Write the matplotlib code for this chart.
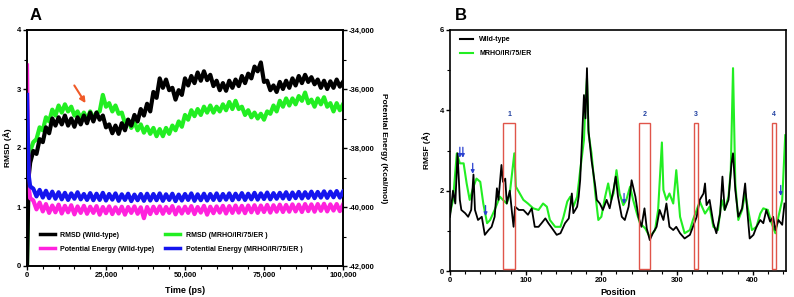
import matplotlib
matplotlib.use("Agg")
import matplotlib.pyplot as plt
from matplotlib.lines import Line2D
from matplotlib.patches import Rectangle

plt.rcParams['font.family'] = ['Liberation Sans', 'DejaVu Sans']
plt.rcParams['font.weight'] = 'bold'

# ---------------- Panel A data ----------------
rmsd_time = [0, 0.5] + list(range(1, 101))  # in thousand ps
rmsd_wt = [0.0, 1.5,
           1.75, 1.95, 1.9, 2.15, 2.1, 2.35, 2.25, 2.5, 2.38, 2.52,
           2.4, 2.55, 2.38, 2.5, 2.36, 2.52, 2.4, 2.55, 2.42, 2.6,
           2.45, 2.6, 2.48, 2.55, 2.35, 2.4, 2.25, 2.38, 2.24, 2.42,
           2.3, 2.48, 2.38, 2.56, 2.45, 2.66, 2.55, 2.75, 2.62, 2.95,
           2.85, 3.18, 3.02, 3.16, 2.98, 3.02, 2.82, 2.98, 2.9, 3.18,
           3.06, 3.22, 3.1, 3.28, 3.14, 3.3, 3.15, 3.24, 3.05, 3.14,
           2.98, 3.1, 2.97, 3.14, 3.02, 3.16, 3.05, 3.22, 3.1, 3.26,
           3.18, 3.38, 3.3, 3.45, 3.12, 3.14, 2.98, 3.06, 2.95, 3.12,
           3.0, 3.14, 3.02, 3.18, 3.06, 3.22, 3.1, 3.24, 3.12, 3.2,
           3.08, 3.16, 3.02, 3.14, 3.0, 3.13, 3.02, 3.16, 3.04, 3.12]
rmsd_mut = [0.0, 1.7,
            1.95, 2.1, 2.15, 2.35, 2.3, 2.52, 2.45, 2.65, 2.55, 2.72,
            2.6, 2.74, 2.62, 2.7, 2.55, 2.62, 2.5, 2.6, 2.48, 2.62,
            2.5, 2.6, 2.62, 2.9, 2.7, 2.76, 2.62, 2.72, 2.58, 2.6,
            2.42, 2.48, 2.34, 2.44, 2.3, 2.4, 2.26, 2.36, 2.24, 2.34,
            2.2, 2.32, 2.2, 2.34, 2.24, 2.38, 2.3, 2.45, 2.36, 2.56,
            2.48, 2.64, 2.54, 2.66, 2.56, 2.7, 2.6, 2.72, 2.6, 2.7,
            2.62, 2.74, 2.64, 2.78, 2.66, 2.8, 2.66, 2.7, 2.56, 2.64,
            2.52, 2.6, 2.5, 2.58, 2.48, 2.62, 2.58, 2.72, 2.62, 2.8,
            2.7, 2.84, 2.72, 2.84, 2.74, 2.88, 2.8, 2.94, 2.76, 2.82,
            2.7, 2.84, 2.74, 2.86, 2.7, 2.76, 2.62, 2.76, 2.64, 2.74]

energy_time = [0, 0.5] + list(range(1, 101))
energy_wt = [-35200, -39300,
             -39700, -39780, -40080, -39850, -40150, -39900, -40200, -39950, -40180, -39920,
             -40220, -39960, -40180, -39940, -40250, -39980, -40200, -39960, -40230, -39990,
             -40200, -39970, -40260, -40000, -40210, -39980, -40240, -40010, -40220, -39990,
             -40260, -40000, -40200, -39980, -40230, -40010, -40380, -40000, -40240, -39990,
             -40210, -39980, -40230, -40000, -40200, -39970, -40250, -40010, -40220, -39990,
             -40200, -39970, -40240, -40000, -40190, -39960, -40260, -39990, -40210, -39980,
             -40190, -39960, -40220, -39970, -40200, -39950, -40190, -39960, -40210, -39950,
             -40180, -39940, -40200, -39950, -40170, -39930, -40190, -39940, -40160, -39920,
             -40170, -39930, -40160, -39910, -40150, -39920, -40170, -39900, -40140, -39910,
             -40160, -39900, -40130, -39890, -40150, -39910, -40120, -39900, -40140, -39920]
energy_mut = [-36200, -38900,
              -39300, -39380, -39640, -39420, -39680, -39450, -39700, -39480, -39720, -39500,
              -39740, -39520, -39760, -39540, -39720, -39500, -39740, -39560, -39760, -39530,
              -39770, -39550, -39760, -39520, -39780, -39560, -39750, -39540, -39790, -39570,
              -39760, -39550, -39800, -39580, -39770, -39560, -39790, -39550, -39780, -39560,
              -39770, -39540, -39790, -39570, -39760, -39550, -39800, -39580, -39780, -39560,
              -39760, -39540, -39790, -39570, -39770, -39550, -39780, -39560, -39760, -39540,
              -39770, -39560, -39750, -39540, -39770, -39550, -39740, -39530, -39760, -39550,
              -39740, -39520, -39750, -39540, -39730, -39510, -39740, -39530, -39720, -39520,
              -39710, -39500, -39730, -39510, -39700, -39490, -39710, -39500, -39690, -39480,
              -39700, -39490, -39680, -39470, -39690, -39480, -39670, -39460, -39680, -39480]

# ---------------- Panel B data ----------------
pos_wt = [0, 4, 7, 10, 13, 15, 20, 24, 28, 31, 33, 37, 42, 46, 51, 55, 59, 62, 64, 68,
          70, 73, 75, 79, 82, 84, 86, 91, 97, 103, 108, 112, 117, 121, 126, 130, 135, 141,
          146, 152, 157, 161, 163, 168, 170, 172, 174, 177, 179, 181, 183, 187, 192, 194,
          198, 202, 207, 211, 216, 219, 222, 227, 231, 236, 240, 245, 249, 253, 257, 260,
          264, 268, 273, 277, 282, 286, 290, 295, 299, 304, 310, 317, 321, 326, 330, 335,
          337, 339, 343, 348, 352, 357, 360, 363, 368, 372, 374, 377, 381, 386, 390, 392,
          396, 401, 405, 410, 414, 418, 423, 427, 430, 434, 439, 442]
rmsf_wt = [1.35, 2.0, 1.68, 2.93, 1.77, 1.52, 1.44, 1.35, 1.52, 2.4, 1.52, 1.27, 1.35,
           0.9, 1.02, 1.1, 1.35, 2.06, 1.77, 2.64, 2.22, 2.3, 1.68, 2.0, 1.44, 1.1, 1.6,
           1.52, 1.52, 1.4, 1.56, 1.1, 1.1, 1.19, 1.31, 1.19, 1.06, 0.9, 0.94, 1.19, 1.31,
           1.93, 1.44, 1.6, 1.85, 2.26, 3.09, 4.38, 3.8, 5.05, 3.5, 2.76, 2.1, 1.77, 1.68,
           1.52, 1.77, 1.56, 2.02, 2.35, 1.85, 1.35, 1.27, 1.6, 2.26, 1.85, 1.35, 1.1, 1.56,
           1.06, 0.77, 0.94, 1.1, 1.52, 1.27, 1.68, 1.1, 1.02, 1.1, 0.94, 0.81, 0.9, 1.1,
           1.35, 1.77, 1.93, 2.18, 1.64, 1.77, 1.19, 0.94, 1.43, 2.35, 1.52, 1.77, 2.68,
           2.93, 2.02, 1.35, 1.56, 2.18, 1.68, 0.81, 0.9, 1.1, 1.27, 1.19, 1.52, 1.23, 1.35,
           1.02, 1.27, 1.15, 1.68]
pos_mut = [0, 4, 9, 13, 18, 22, 26, 31, 35, 40, 44, 49, 53, 59, 66, 70, 75, 79, 85, 87,
           91, 97, 103, 110, 117, 123, 128, 132, 139, 146, 150, 155, 159, 163, 168, 172,
           177, 179, 181, 183, 187, 192, 196, 200, 205, 209, 213, 216, 220, 224, 229, 233,
           238, 242, 247, 251, 258, 264, 271, 275, 280, 282, 286, 290, 295, 299, 304, 310,
           317, 321, 326, 330, 337, 343, 348, 354, 359, 363, 368, 371, 374, 377, 381, 386,
           390, 394, 399, 405, 410, 414, 420, 425, 430, 434, 439, 443]
rmsf_mut = [1.44, 1.77, 2.93, 2.68, 2.68, 2.18, 1.77, 2.1, 2.3, 2.22, 1.68, 1.19, 1.27,
            1.52, 1.85, 1.77, 1.68, 1.93, 2.93, 2.1, 1.97, 1.77, 1.68, 1.56, 1.52, 1.68,
            1.6, 1.27, 1.1, 1.1, 1.35, 1.73, 1.85, 1.6, 1.85, 2.5, 3.26, 4.2, 4.8, 3.43,
            2.93, 1.93, 1.27, 1.35, 1.85, 2.18, 1.77, 1.93, 2.51, 1.93, 1.64, 1.77, 2.1,
            1.77, 1.43, 1.19, 1.06, 0.85, 1.02, 1.52, 3.2, 2.02, 1.77, 1.93, 1.68, 2.51,
            1.35, 0.94, 1.02, 1.27, 1.52, 1.73, 1.43, 1.6, 1.1, 1.02, 1.77, 1.52, 1.85, 2.5,
            5.05, 2.18, 1.27, 1.52, 1.93, 1.52, 1.02, 1.1, 1.43, 1.56, 1.52, 1.19, 0.94,
            1.35, 1.77, 3.38]

box_labels = ['1', '2', '3', '4']
box_start = [70, 250, 322, 425]
box_end = [86, 264, 328, 431]
box_top = 3.68

arrow_pos = [13, 17, 30, 47, 230, 437]
arrow_val = [2.9, 2.9, 2.5, 1.45, 1.75, 1.95]

# ---------------- Figure ----------------
fig = plt.figure(figsize=(7.94, 2.97), dpi=100)
axA = fig.add_axes([27/794, 31/297, 316/794, 236/297])
axB = fig.add_axes([450/794, 26/297, 336/794, 241/297])

tfs = 5.5
for ax in (axA, axB):
    for s in ax.spines.values():
        s.set_linewidth(1.2)
    ax.tick_params(axis='both', which='major', labelsize=tfs, length=3, width=1, direction='out', pad=1.5)
    ax.tick_params(axis='both', which='minor', length=2, width=0.8, direction='out')

LW = 3.0
# Panel A
tA = [t * 1000 for t in rmsd_time]
tE = [t * 1000 for t in energy_time]
axA.plot(tA, rmsd_mut, color='#22ee22', lw=LW, zorder=2)
axA.plot(tA, rmsd_wt, color='black', lw=LW, zorder=3)
axA.set_xlim(0, 100000)
axA.set_ylim(0, 4)
axA.set_yticks([0, 1, 2, 3, 4])
axA.set_xticks([0, 25000, 50000, 75000, 100000])
axA.set_xticklabels(['0', '25,000', '50,000', '75,000', '100,000'])
axA.set_xticks(range(0, 100001, 5000), minor=True)
axA.set_yticks([0.5, 1.5, 2.5, 3.5], minor=True)
axA.set_ylabel('RMSD (Å)', fontsize=6, fontweight='bold', labelpad=3)
axA.set_xlabel('Time (ps)', fontsize=6.5, fontweight='bold', labelpad=5)

axE = axA.twinx()
axE.plot(tE, energy_wt, color='#ff22dd', lw=LW, zorder=2)
axE.plot(tE, energy_mut, color='#1515ee', lw=LW, zorder=3)
axE.set_ylim(-42000, -34000)
axE.set_yticks([-42000, -40000, -38000, -36000, -34000])
axE.set_yticklabels(['-42,000', '-40,000', '-38,000', '-36,000', '-34,000'])
axE.set_yticks(range(-42000, -33999, 1000), minor=True)
for s in axE.spines.values():
    s.set_linewidth(1.2)
axE.tick_params(axis='y', which='major', labelsize=tfs, length=3, width=1, pad=1)
axE.tick_params(axis='y', which='minor', length=2, width=0.8)
axE.set_ylabel('Potential Energy (Kcal/mol)', fontsize=6, fontweight='bold', rotation=270, labelpad=9)

axA.annotate('', xy=(19000, 2.72), xytext=(14500, 3.1), xycoords='data',
             arrowprops=dict(arrowstyle='-|>', color='#f05a28', lw=1.5, mutation_scale=8), zorder=6)

handles = [Line2D([], [], color='black', lw=2.5), Line2D([], [], color='#ff22dd', lw=2.5),
           Line2D([], [], color='#22ee22', lw=2.5), Line2D([], [], color='#1515ee', lw=2.5)]
labels = ['RMSD (Wild-type)', 'Potential Energy (Wild-type)',
          'RMSD (MRHO/IR/75/ER )', 'Potential Energy (MRHO/IR/75/ER )']
leg = axE.legend(handles, labels, ncol=2, loc='lower left', bbox_to_anchor=(0.02, 0.03),
                 frameon=False, prop={'size': 5, 'weight': 'bold'}, handlelength=2.2,
                 columnspacing=1.5, labelspacing=1.0, handletextpad=0.8)

fig.text(30/794, 1 - 15/297, 'A', fontsize=12, fontweight='bold', va='center', ha='left')

# Panel B
axB.plot(pos_mut, rmsf_mut, color='#22ee22', lw=1.5, zorder=2)
axB.plot(pos_wt, rmsf_wt, color='black', lw=1.3, zorder=3)
axB.set_xlim(0, 444)
axB.set_ylim(0, 6)
axB.set_yticks([0, 2, 4, 6])
axB.set_yticks([1, 3, 5], minor=True)
axB.set_xticks([0, 100, 200, 300, 400])
axB.set_xticks(range(0, 441, 20), minor=True)
axB.set_ylabel('RMSF (Å)', fontsize=6, fontweight='bold', labelpad=6)
axB.set_xlabel('Position', fontsize=6.5, fontweight='bold', labelpad=3)

for lab, x0, x1 in zip(box_labels, box_start, box_end):
    axB.add_patch(Rectangle((x0, 0.05), x1 - x0, box_top - 0.05, fill=False,
                            edgecolor='#e0554a', lw=1.0, zorder=4))
    axB.text((x0 + x1) / 2, box_top + 0.22, lab, color='#1f3fa0', fontsize=5,
             fontweight='bold', ha='center', va='center')

for px, pv in zip(arrow_pos, arrow_val):
    axB.annotate('', xy=(px, pv - 0.15), xytext=(px, pv + 0.25),
                 arrowprops=dict(arrowstyle='-|>', color='#2a40d0', lw=0.9, mutation_scale=5), zorder=5)

hB = [Line2D([], [], color='black', lw=1.5), Line2D([], [], color='#22ee22', lw=1.5)]
axB.legend(hB, ['Wild-type', 'MRHO/IR/75/ER'], loc='upper left', bbox_to_anchor=(0.01, 1.0),
           frameon=False, prop={'size': 5, 'weight': 'bold'}, handlelength=2.0, labelspacing=1.0)

fig.text(455/794, 1 - 15/297, 'B', fontsize=12, fontweight='bold', va='center', ha='left')

fig.savefig('out.png', dpi=100)
